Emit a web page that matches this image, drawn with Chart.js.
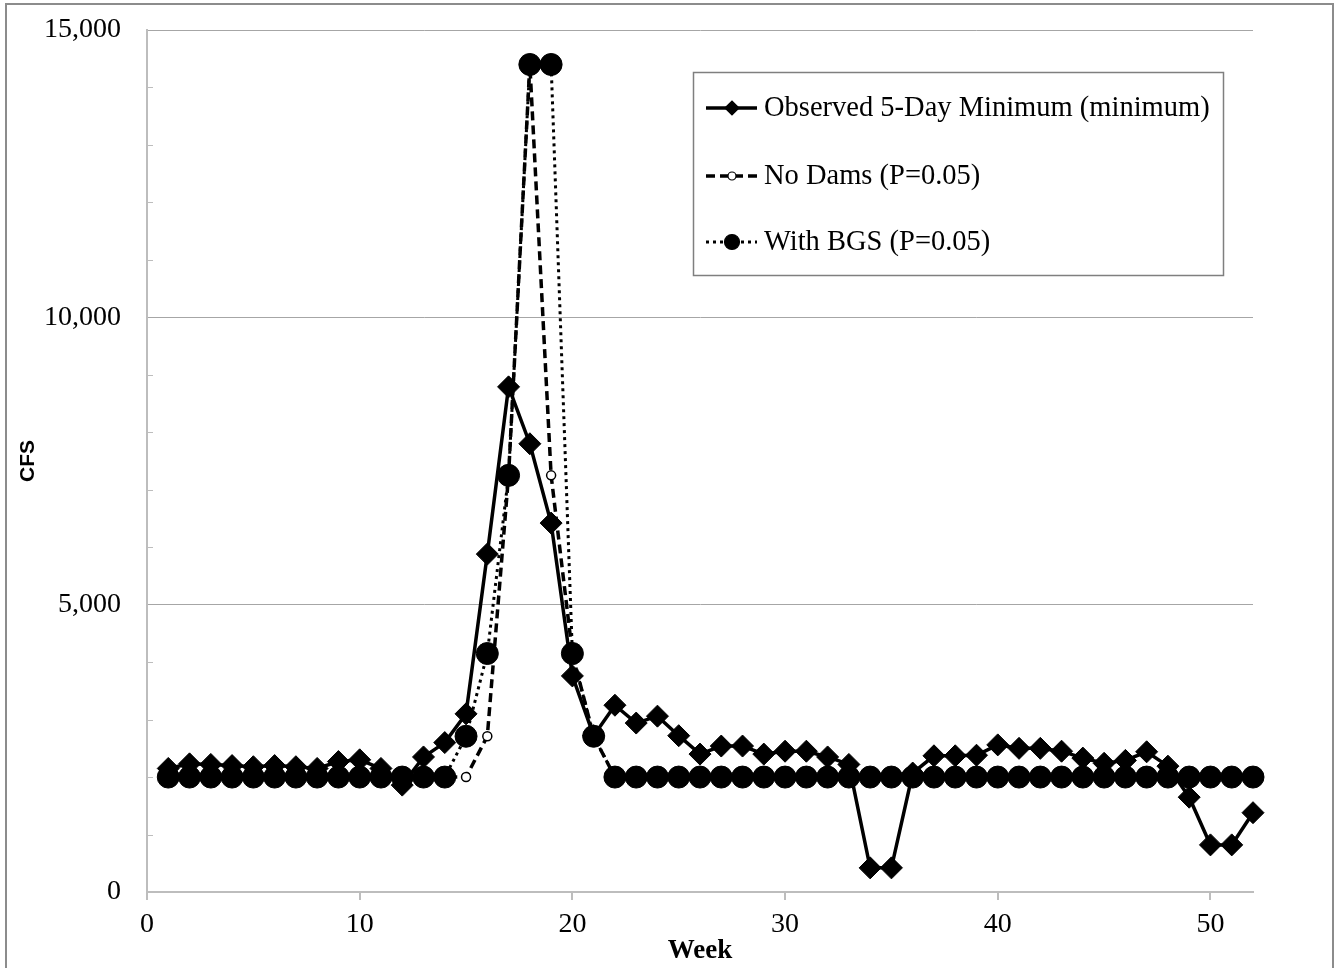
<!DOCTYPE html>
<html>
<head>
<meta charset="utf-8">
<script src="https://cdn.jsdelivr.net/npm/chart.js@4"></script>
<style>
  html, body { margin: 0; padding: 0; background: #fff; }
  #wrap { width: 1336px; height: 968px; }
</style>
</head>
<body>
<div id="wrap"><canvas id="chart" width="1336" height="968"></canvas></div>
<script>
// Weekly flows (CFS)
const weeks = [1, 2, 3, 4, 5, 6, 7, 8, 9, 10, 11, 12, 13, 14, 15, 16, 17, 18, 19, 20, 21, 22, 23, 24, 25, 26,
  27, 28, 29, 30, 31, 32, 33, 34, 35, 36, 37, 38, 39, 40, 41, 42, 43, 44, 45, 46, 47, 48, 49, 50, 51, 52];

const observedMin = [2150, 2230, 2220, 2200, 2180, 2200, 2180, 2150, 2270, 2300, 2150, 1860, 2350, 2600, 3100, 5880, 8790, 7800, 6420, 3760,
  2720, 3250, 2940, 3060, 2720, 2400, 2540, 2540, 2400, 2450, 2450, 2350, 2220, 420, 420, 2070,
  2370, 2370, 2380, 2560, 2500, 2500, 2450, 2330, 2240, 2290, 2440, 2190, 1650, 820, 820, 1380];

const noDams = [2000, 2000, 2000, 2000, 2000, 2000, 2000, 2000, 2000, 2000, 2000, 2000, 2000, 2000, 2000, 2710, 7250, 14400, 7250, 4150,
  2710, 2000, 2000, 2000, 2000, 2000, 2000, 2000, 2000, 2000, 2000, 2000, 2000, 2000, 2000, 2000,
  2000, 2000, 2000, 2000, 2000, 2000, 2000, 2000, 2000, 2000, 2000, 2000, 2000, 2000, 2000, 2000];

const withBGS = [2000, 2000, 2000, 2000, 2000, 2000, 2000, 2000, 2000, 2000, 2000, 2000, 2000, 2000, 2710, 4150, 7250, 14400, 14400, 4150,
  2710, 2000, 2000, 2000, 2000, 2000, 2000, 2000, 2000, 2000, 2000, 2000, 2000, 2000, 2000, 2000,
  2000, 2000, 2000, 2000, 2000, 2000, 2000, 2000, 2000, 2000, 2000, 2000, 2000, 2000, 2000, 2000];

const seriesNames = ['Observed 5-Day Minimum (minimum)', 'No Dams (P=0.05)', 'With BGS (P=0.05)'];
const yMinorTicks = [1000, 2000, 3000, 4000, 6000, 7000, 8000, 9000, 11000, 12000, 13000, 14000];

const SERIF = '"Liberation Serif", "Times New Roman", serif';
const GRID = '#a6a6a6';
const AXIS = '#bdbdbd';

function toPoints(values) {
  return weeks.map((w, i) => ({ x: w, y: values[i] }));
}

// frame around the whole picture, plus inner minor ticks on the y axis
const framePlugin = {
  id: 'frame',
  beforeDraw(chart) {
    const ctx = chart.ctx;
    ctx.save();
    ctx.fillStyle = '#fff';
    ctx.fillRect(0, 0, chart.width, chart.height);
    ctx.restore();
  },
  afterDraw(chart) {
    const ctx = chart.ctx;
    const y = chart.scales.y;
    const left = chart.chartArea.left;
    ctx.save();
    ctx.strokeStyle = AXIS;
    ctx.lineWidth = 1;
    yMinorTicks.forEach(v => {
      const py = Math.round(y.getPixelForValue(v)) + 0.5;
      ctx.beginPath();
      ctx.moveTo(left, py);
      ctx.lineTo(left + 6, py);
      ctx.stroke();
    });
    ctx.strokeStyle = '#8c8c8c';
    ctx.lineWidth = 2;
    ctx.strokeRect(6, 4, chart.width - 9, chart.height + 10);
    ctx.restore();
  }
};

// boxed legend, Excel style
const boxLegend = {
  id: 'boxLegend',
  afterDraw(chart) {
    const ctx = chart.ctx;
    const bx = 693, by = 72, bw = 530, bh = 203;
    ctx.save();
    ctx.fillStyle = '#fff';
    ctx.fillRect(bx, by, bw, bh);
    ctx.strokeStyle = '#7f7f7f';
    ctx.lineWidth = 1.5;
    ctx.strokeRect(bx + 0.5, by + 0.5, bw, bh);

    const rows = [108, 176, 242];
    const x0 = 706, x1 = 757, mx = 732;
    chart.data.datasets.forEach((ds, i) => {
      const ry = rows[i];
      ctx.strokeStyle = '#000';
      ctx.lineWidth = ds.borderWidth;
      ctx.setLineDash(ds.borderDash || []);
      ctx.beginPath();
      ctx.moveTo(x0, ry);
      ctx.lineTo(x1, ry);
      ctx.stroke();
      ctx.setLineDash([]);

      ctx.fillStyle = ds.pointBackgroundColor;
      ctx.strokeStyle = '#000';
      ctx.lineWidth = 1.2;
      ctx.beginPath();
      if (ds.pointStyle === 'rectRot') {
        const r = 7;
        ctx.moveTo(mx - r, ry);
        ctx.lineTo(mx, ry - r);
        ctx.lineTo(mx + r, ry);
        ctx.lineTo(mx, ry + r);
        ctx.closePath();
      } else {
        const r = ds.pointRadius > 6 ? 7.5 : 4;
        ctx.arc(mx, ry, r, 0, Math.PI * 2);
      }
      ctx.fill();
      ctx.stroke();

      ctx.fillStyle = '#000';
      ctx.font = '28.5px ' + SERIF;
      ctx.textBaseline = 'middle';
      ctx.textAlign = 'left';
      ctx.fillText(ds.label, 764, ry + 1);
    });
    ctx.restore();
  }
};

new Chart(document.getElementById('chart'), {
  type: 'line',
  data: {
    datasets: [
      {
        label: seriesNames[0],
        data: toPoints(observedMin),
        borderColor: '#000',
        borderWidth: 3.5,
        pointStyle: 'rectRot',
        pointRadius: 11,
        pointBackgroundColor: '#000',
        pointBorderColor: '#000',
        pointBorderWidth: 1,
        tension: 0,
        clip: false,
        order: 3,
      },
      {
        label: seriesNames[1],
        data: toPoints(noDams),
        borderColor: '#000',
        borderWidth: 3.5,
        borderDash: [9, 5],
        pointStyle: 'circle',
        pointRadius: 4.5,
        pointBackgroundColor: '#fff',
        pointBorderColor: '#000',
        pointBorderWidth: 1.5,
        tension: 0,
        clip: false,
        order: 2,
      },
      {
        label: seriesNames[2],
        data: toPoints(withBGS),
        borderColor: '#000',
        borderWidth: 3,
        borderDash: [3, 4],
        pointStyle: 'circle',
        pointRadius: 11,
        pointBackgroundColor: '#000',
        pointBorderColor: '#000',
        pointBorderWidth: 1,
        tension: 0,
        clip: false,
        order: 1,
      },
    ],
  },
  options: {
    responsive: false,
    animation: false,
    layout: { padding: { top: 30, right: 83, left: 0, bottom: 0 } },
    plugins: {
      legend: { display: false },
      tooltip: { enabled: false },
    },
    scales: {
      x: {
        type: 'linear',
        min: 0,
        max: 52,
        afterFit: (scale) => {
          scale.height = 76;
          scale.paddingLeft = 0;
          scale.paddingRight = 0;
        },
        ticks: {
          stepSize: 10,
          includeBounds: false,
          color: '#000',
          padding: 8,
          maxRotation: 0,
          font: { family: SERIF, size: 28 },
        },
        grid: {
          drawOnChartArea: false,
          drawTicks: true,
          tickLength: 8,
          color: AXIS,
          lineWidth: 2,
        },
        border: { color: AXIS, width: 2 },
        title: {
          display: true,
          text: 'Week',
          color: '#000',
          font: { family: SERIF, size: 27, weight: 'bold' },
          padding: { top: 0, bottom: 1 },
        },
      },
      y: {
        min: 0,
        max: 15000,
        afterFit: (scale) => {
          scale.width = 147;
          scale.paddingTop = 0;
          scale.paddingBottom = 0;
        },
        ticks: {
          stepSize: 5000,
          color: '#000',
          padding: 26,
          font: { family: SERIF, size: 28 },
          callback: (v) => v.toLocaleString('en-US'),
        },
        grid: {
          drawTicks: false,
          color: (c) => (c.tick && c.tick.value === 0 ? 'rgba(0,0,0,0)' : GRID),
          lineWidth: 1,
        },
        border: { color: AXIS, width: 2 },
        title: {
          display: true,
          text: 'CFS',
          color: '#000',
          font: { family: '"Liberation Sans Narrow", "Liberation Sans", Arial, sans-serif', size: 21, weight: 'bold' },
          padding: { top: 16, bottom: 0 },
        },
      },
    },
  },
  plugins: [framePlugin, boxLegend],
});
</script>
</body>
</html>
